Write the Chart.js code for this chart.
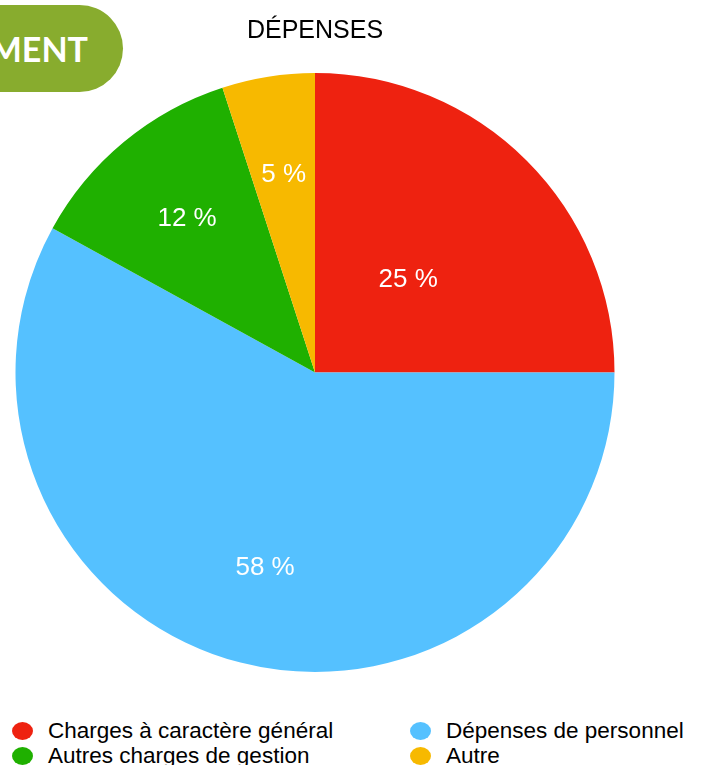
<!DOCTYPE html>
<html lang="fr">
<head>
<meta charset="utf-8">
<script src="https://cdn.jsdelivr.net/npm/chart.js@4"></script>
<style>
  html, body { margin: 0; padding: 0; background: #fff; overflow: hidden; }
  body { width: 704px; height: 765px; position: relative; font-family: "Liberation Sans", Arial, sans-serif; }
  .badge {
    position: absolute; top: 5px; left: -300px; width: 388px; height: 87px;
    padding-right: 35px; background: #88ac2e; border-radius: 0 44px 44px 0;
    color: #fff; font-family: Lato, "Open Sans", sans-serif; font-weight: bold; font-size: 34px;
    line-height: 87px; text-align: right; box-sizing: content-box;
  }
  .wrap { position: absolute; top: 0; left: 0; width: 630px; height: 672px; }
  #legende {
    position: absolute; top: 720px; left: 12px; width: 700px;
    display: grid; grid-template-columns: 398px 300px; row-gap: 3px;
    font-size: 22.5px; color: #000;
  }
  #legende div { display: flex; align-items: center; height: 22px; white-space: nowrap; }
  #legende span.pastille { display: inline-block; width: 21px; height: 18px; border-radius: 50%; margin-right: 15px; flex: none; }
</style>
</head>
<body>
<div class="badge">FONCTIONNEMENT</div>
<div class="wrap"><canvas id="depenses"></canvas></div>
<div id="legende"></div>
<script>
// Dépenses (en %)
const categories = [
    'Charges à caractère général',
    'Dépenses de personnel',
    'Autres charges de gestion',
    'Autre'
];
const valeurs = [25, 58, 12, 5];
const couleurs = ['#ee2210', '#55c1ff', '#1fb000', '#f7b900'];

// position des étiquettes (fraction du rayon)
const positionEtiquettes = [0.44, 0.67, 0.67, 0.67];

const etiquettesPlugin = {
    id: 'etiquettes',
    afterDatasetsDraw(chart) {
        const ctx = chart.ctx;
        const meta = chart.getDatasetMeta(0);
        ctx.save();
        ctx.fillStyle = '#ffffff';
        ctx.font = '26px "Liberation Sans", Arial, sans-serif';
        ctx.textAlign = 'center';
        ctx.textBaseline = 'middle';
        meta.data.forEach(function(arc, i) {
            const p = arc.getProps(['x', 'y', 'startAngle', 'endAngle', 'outerRadius'], true);
            const a = (p.startAngle + p.endAngle) / 2;
            const r = p.outerRadius * positionEtiquettes[i];
            ctx.fillText(valeurs[i] + ' %', p.x + Math.cos(a) * r, p.y + Math.sin(a) * r + 1);
        });
        ctx.restore();
    }
};

const config = {
    type: 'pie',
    data: {
        labels: categories,
        datasets: [{
            data: valeurs,
            backgroundColor: couleurs,
            borderWidth: 0
        }]
    },
    options: {
        responsive: true,
        maintainAspectRatio: false,
        animation: false,
        layout: { padding: 0 },
        plugins: {
            title: {
                display: true,
                text: 'DÉPENSES',
                color: '#000',
                font: { family: '"Liberation Sans", Arial, sans-serif', size: 25, weight: 'normal' },
                padding: { top: 16, bottom: 27 }
            },
            legend: { display: false },
            tooltip: { enabled: false }
        }
    },
    plugins: [etiquettesPlugin]
};

const graphique = new Chart(document.getElementById('depenses'), config);

// légende en deux colonnes
const legende = document.getElementById('legende');
graphique.options.plugins.legend.labels.generateLabels(graphique).forEach(function(item) {
    const d = document.createElement('div');
    const s = document.createElement('span');
    s.className = 'pastille';
    s.style.background = item.fillStyle;
    d.appendChild(s);
    d.appendChild(document.createTextNode(item.text));
    legende.appendChild(d);
});
</script>
</body>
</html>
